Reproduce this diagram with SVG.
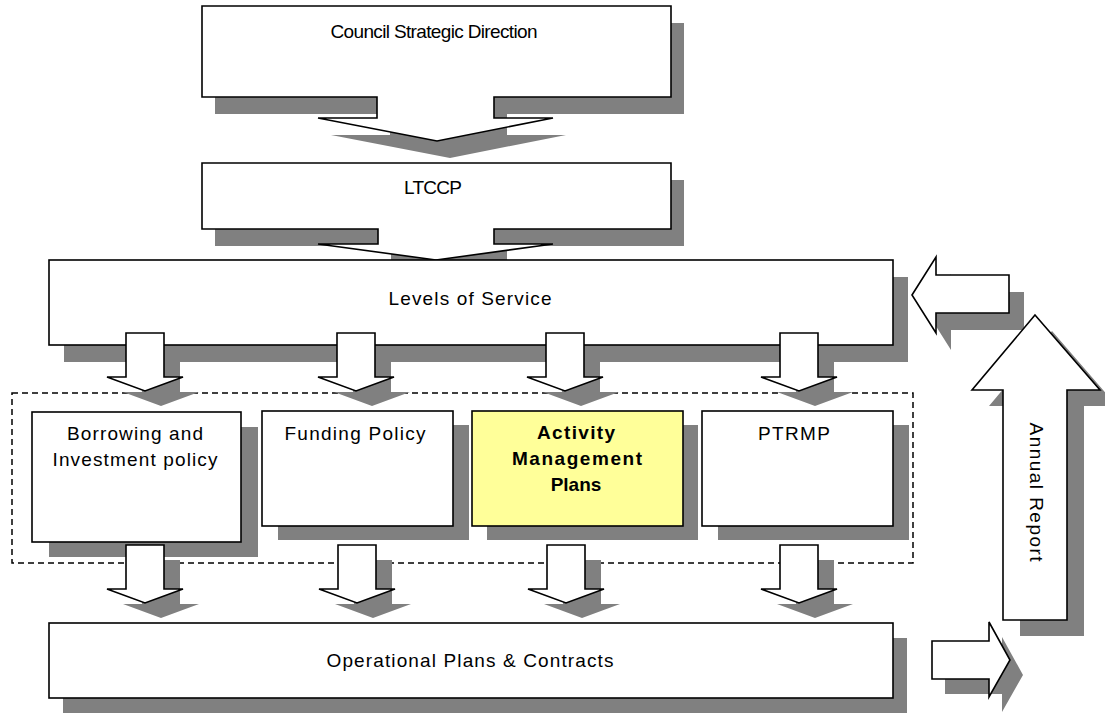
<svg xmlns="http://www.w3.org/2000/svg" xmlns:xlink="http://www.w3.org/1999/xlink" width="1105" height="713" viewBox="0 0 1105 713">
<style>
.sh{fill:#808080;stroke:none}
.bx{fill:#ffffff;stroke:#000;stroke-width:1.6}
.yl{fill:#ffff99;stroke:#000;stroke-width:1.6}
.ar{fill:#ffffff;stroke:#000;stroke-width:1.6;stroke-linejoin:miter}
.t{font-family:"Liberation Sans",Arial,sans-serif;font-size:19px;fill:#000;text-anchor:middle}
.tb{font-family:"Liberation Sans",Arial,sans-serif;font-size:19px;font-weight:bold;fill:#000;text-anchor:middle}
.grp{fill:none;stroke:#000;stroke-width:1.5;stroke-dasharray:6 4}
</style>
<defs>
<path id="dn" d="M-19,0 H19 V44 H38 L0,58 L-38,44 H-19 Z"/>
</defs>
<rect width="1105" height="713" fill="#ffffff"/>

<g id="council">
<polygon class="sh" transform="translate(13,17)" points="202,6 671,6 671,97 494,97 494,118 553,118 437,141 318,118 377,118 377,97 202,97"/>
<polygon class="ar" points="202,6 671,6 671,97 494,97 494,118 553,118 437,141 318,118 377,118 377,97 202,97"/>
<text class="t" x="434" y="38" textLength="207" lengthAdjust="spacing">Council Strategic Direction</text>
</g>

<g id="ltccp">
<polygon class="sh" transform="translate(13,17)" points="202,163 671,163 671,229 494,229 494,244 553,244 436,260 318,244 378,244 378,229 202,229"/>
<polygon class="ar" points="202,163 671,163 671,229 494,229 494,244 553,244 436,260 318,244 378,244 378,229 202,229"/>
<text class="t" x="433" y="194" textLength="58" lengthAdjust="spacing">LTCCP</text>
</g>

<g id="levels">
<rect class="sh" x="64" y="277" width="844" height="85"/>
<rect class="bx" x="49" y="260" width="844" height="85"/>
<text class="t" x="470" y="305" textLength="163" lengthAdjust="spacing">Levels of Service</text>
</g>

<g id="borrowing">
<rect class="sh" x="49" y="427" width="209" height="130"/>
<rect class="bx" x="32" y="412" width="209" height="130"/>
<text class="t" x="135" y="440" textLength="136" lengthAdjust="spacing">Borrowing and</text>
<text class="t" x="135" y="466" textLength="165" lengthAdjust="spacing">Investment policy</text>
</g>

<g id="funding">
<rect class="sh" x="278" y="425" width="191" height="115"/>
<rect class="bx" x="262" y="411" width="191" height="115"/>
<text class="t" x="355" y="440" textLength="141" lengthAdjust="spacing">Funding Policy</text>
</g>

<g id="activity">
<rect class="sh" x="487" y="425" width="211" height="115"/>
<rect class="yl" x="472" y="411" width="211" height="115"/>
<text class="tb" x="576" y="439" textLength="78" lengthAdjust="spacing">Activity</text>
<text class="tb" x="577" y="465" textLength="130" lengthAdjust="spacing">Management</text>
<text class="tb" x="576" y="491">Plans</text>
</g>

<g id="ptrmp">
<rect class="sh" x="718" y="425" width="191" height="115"/>
<rect class="bx" x="702" y="411" width="191" height="115"/>
<text class="t" x="794" y="440" textLength="72" lengthAdjust="spacing">PTRMP</text>
</g>

<g id="operational">
<rect class="sh" x="63" y="638" width="844" height="75"/>
<rect class="bx" x="49" y="623" width="844" height="75"/>
<text class="t" x="470" y="667" textLength="287" lengthAdjust="spacing">Operational Plans &amp; Contracts</text>
</g>

<g id="policy-group">
<rect class="grp" x="12" y="393" width="901" height="170"/>
</g>

<g id="connectors">
<g class="sh">
<use xlink:href="#dn" href="#dn" x="161" y="348"/>
<use xlink:href="#dn" href="#dn" x="372" y="348"/>
<use xlink:href="#dn" href="#dn" x="581" y="348"/>
<use xlink:href="#dn" href="#dn" x="815" y="348"/>
<use xlink:href="#dn" href="#dn" x="161" y="560"/>
<use xlink:href="#dn" href="#dn" x="373" y="560"/>
<use xlink:href="#dn" href="#dn" x="582" y="560"/>
<use xlink:href="#dn" href="#dn" x="815" y="560"/>
<polygon transform="translate(15,17)" points="912,295 936,257 936,275 1009,275 1009,313 936,313 936,333"/>
<polygon transform="translate(17,16)" points="1035,315 1100,390 1067,390 1067,620 1003,620 1003,390 972,390"/>
<polygon transform="translate(13,15)" points="932,641 989,641 989,622 1010,660 989,697 989,679 932,679"/>
</g>
<g class="ar">
<use xlink:href="#dn" href="#dn" x="145" y="333"/>
<use xlink:href="#dn" href="#dn" x="356" y="333"/>
<use xlink:href="#dn" href="#dn" x="565" y="333"/>
<use xlink:href="#dn" href="#dn" x="799" y="333"/>
<use xlink:href="#dn" href="#dn" x="145" y="545"/>
<use xlink:href="#dn" href="#dn" x="357" y="545"/>
<use xlink:href="#dn" href="#dn" x="566" y="545"/>
<use xlink:href="#dn" href="#dn" x="799" y="545"/>
<polygon points="912,295 936,257 936,275 1009,275 1009,313 936,313 936,333"/>
<polygon points="1035,315 1100,390 1067,390 1067,620 1003,620 1003,390 972,390"/>
<polygon points="932,641 989,641 989,622 1010,660 989,697 989,679 932,679"/>
</g>
<text class="t" transform="translate(1030,492) rotate(90)" x="0" y="0" textLength="139" lengthAdjust="spacing">Annual Report</text>
</g>
</svg>
